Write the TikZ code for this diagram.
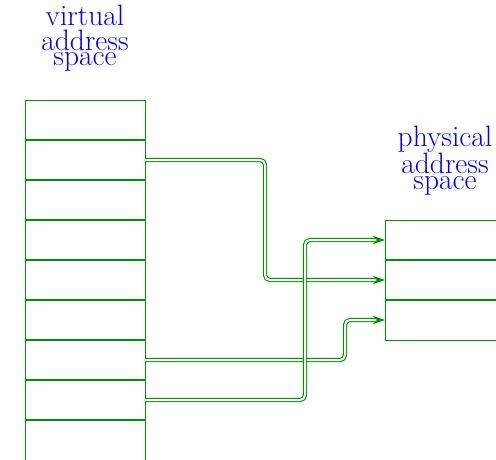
\documentclass[tikz,border=0pt]{standalone}
\usetikzlibrary{arrows.meta}
\definecolor{mygreen}{RGB}{0,150,0}
\begin{document}
\begin{tikzpicture}[x=1pt,y=-1pt,
  cell/.style={draw=mygreen, line width=0.9pt, minimum width=120pt, minimum height=40pt, inner sep=0pt, outer sep=0pt},
  divider/.style={draw=mygreen, line width=1.8pt},
  label/.style={text=blue, align=center, anchor=north, inner sep=0pt, font=\fontsize{29.5}{24.3}\selectfont},
  link/.style={draw=mygreen, double=white, double distance=2pt, line width=1.1pt, rounded corners=5pt, -{Stealth[length=12pt,width=8pt]}}]
\useasboundingbox (0,0) rectangle (496,460);
\foreach \i in {1,...,9} {
  \node[cell] (v\i) at (85,{120+40*(\i-1)}) {};
}
\foreach \j in {1,2,3} {
  \node[cell] (p\j) at (445,{240+40*(\j-1)}) {};
}
\foreach \i in {1,...,8} { \draw[divider] (v\i.south west) -- (v\i.south east); }
\foreach \j in {1,2} { \draw[divider] (p\j.south west) -- (p\j.south east); }
\node[label] (vlab) at (85,5.2) {virtual\\address\\[-8.6pt]space};
\node[label] (plab) at (445,125.5) {physical\\address\\[-8.6pt]space};
\draw[link] (v2.east) -| (265,220) |- (p2.west);
\draw[link] (v7.east) -| (345,340) |- (p3.west);
\draw[link] (v8.east) -| (305,300) |- (p1.west);
\end{tikzpicture}
\end{document}
